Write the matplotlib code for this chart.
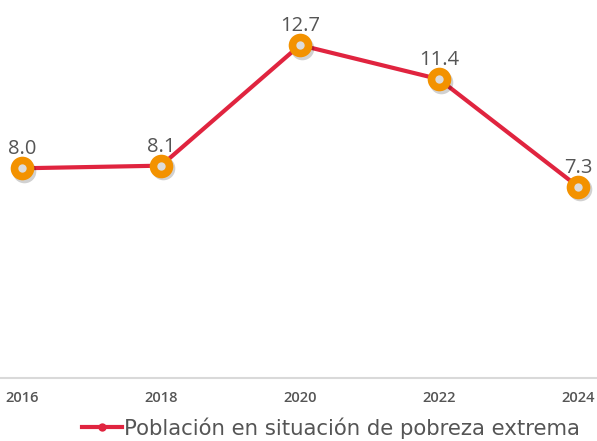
import matplotlib
matplotlib.use("Agg")
import matplotlib.pyplot as plt
import matplotlib.transforms as mtransforms
from matplotlib.lines import Line2D

years = [2016, 2018, 2020, 2022, 2024]
values = [8.0, 8.1, 12.7, 11.4, 7.3]
tick_labels = ["2016", "2018", "2020", "2022", "2024"]
series_name = "Población en situación de pobreza extrema"

plt.rcParams['font.family'] = ['Open Sans', 'DejaVu Sans']

W, H = 597, 441
fig = plt.figure(figsize=(W / 100, H / 100), dpi=100)
ax = fig.add_axes([0, 63 / H, 1, 378 / H])

red = "#e0243f"
orange = "#f39200"
txt = "#555555"

ax.plot(years, values, color=red, lw=3.0, zorder=2, solid_capstyle='round')
# shadow
shadow_tr = ax.transData + mtransforms.ScaledTranslation(1.5 / 72, -2 / 72, fig.dpi_scale_trans)
ax.plot(years, values, 'o', ms=17, color="#000000", alpha=0.18, zorder=3,
        transform=shadow_tr, linestyle='none', markeredgewidth=0)
ax.plot(years, values, 'o', ms=17, color=orange, markeredgewidth=0, linestyle='none', zorder=4)
ax.plot(years, values, 'o', ms=6, color="#dcdcdc", markeredgewidth=0, linestyle='none', zorder=5)

for x, v in zip(years, values):
    ax.annotate(f"{v:.1f}", (x, v), xytext=(0, 10), textcoords='offset points',
                ha='center', va='baseline', fontsize=14.5, color=txt, zorder=6)

ax.set_xlim(2016 - 22 / 69.5, 2024 + 19 / 69.5)
ax.set_ylim(0, 14.42)
ax.set_xticks(years)
ax.set_xticklabels(tick_labels, fontsize=10.5, color="#555555", fontweight='semibold')
ax.tick_params(axis='x', length=0, pad=9)
ax.set_yticks([])
for s in ['top', 'right', 'left']:
    ax.spines[s].set_visible(False)
ax.spines['bottom'].set_color("#d9d9d9")
ax.spines['bottom'].set_linewidth(1.5)

handle = Line2D([], [], color=red, lw=3, marker='o', ms=6, markerfacecolor=red, markeredgewidth=0)
fig.legend([handle], [series_name], loc='center', bbox_to_anchor=(331 / W, 1 - 428 / H),
           frameon=False, prop={'family': 'DejaVu Sans', 'size': 15.3},
           labelcolor=txt, handlelength=1.9, handletextpad=0.1, borderpad=0, borderaxespad=0)

fig.savefig("out.png", dpi=100)
